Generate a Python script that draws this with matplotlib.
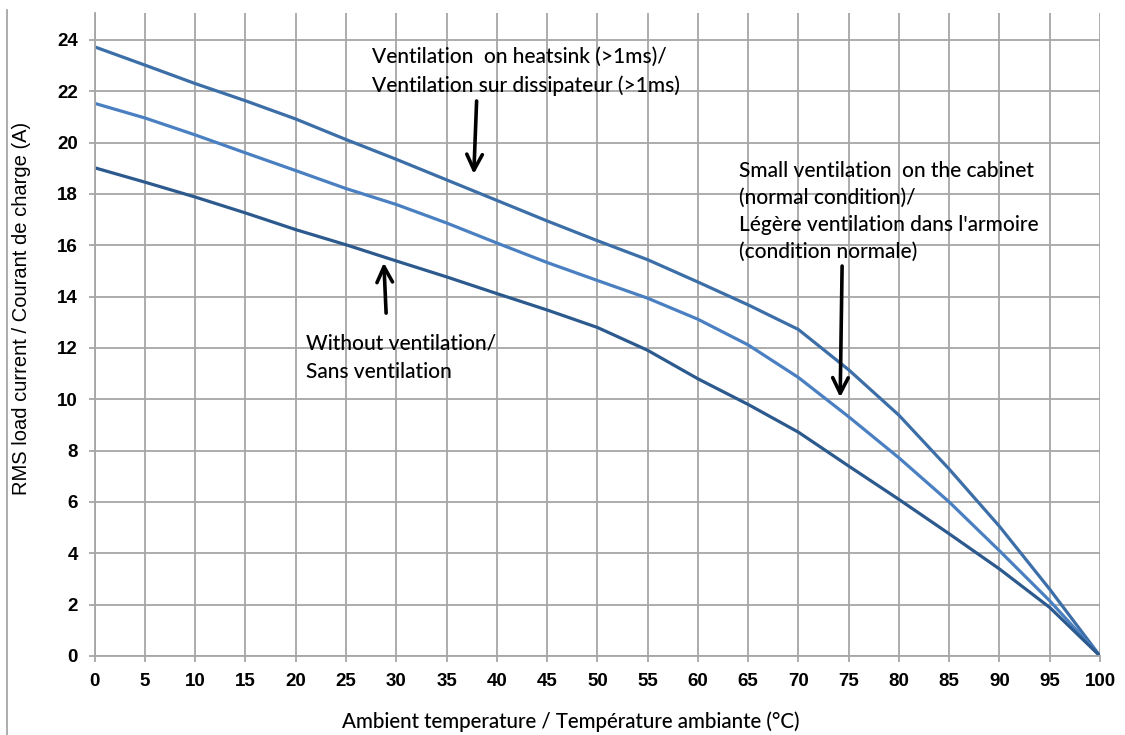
import numpy as np
import matplotlib
matplotlib.use('Agg')
import matplotlib.pyplot as plt
from matplotlib.lines import Line2D

# Temperature (°C) and load current (A)
temperature = [0, 5, 10, 15, 20, 25, 30, 35, 40, 45, 50,
               55, 60, 65, 70, 75, 80, 85, 90, 95, 100]
heatsink_fan = [23.73, 23.02, 22.30, 21.63, 20.92, 20.12, 19.35, 18.55, 17.75, 16.95, 16.18,
                15.44, 14.57, 13.68, 12.72, 11.15, 9.38, 7.28, 5.05, 2.60, 0.0]
cabinet_fan = [21.53, 20.96, 20.30, 19.60, 18.91, 18.21, 17.59, 16.87, 16.09, 15.33, 14.63,
               13.94, 13.12, 12.12, 10.85, 9.32, 7.72, 6.00, 4.10, 2.15, 0.0]
no_fan = [19.02, 18.46, 17.88, 17.26, 16.61, 16.02, 15.39, 14.77, 14.12, 13.48, 12.80,
          11.91, 10.80, 9.80, 8.72, 7.40, 6.10, 4.76, 3.39, 1.89, 0.0]

x_ticks = list(range(0, 101, 5))
y_ticks = list(range(0, 25, 2))

grid_col = '#a6a6a6'

fig = plt.figure(figsize=(11.25, 7.35), dpi=100)
ax = fig.add_axes([94.7 / 1125, 1 - 656 / 735, (1100 - 94.7) / 1125, (656 - 13) / 735])

ax.plot(temperature, heatsink_fan, color='#3c6ea8', lw=2.3, solid_joinstyle='round')
ax.plot(temperature, cabinet_fan, color='#4a80c2', lw=2.3, solid_joinstyle='round')
ax.plot(temperature, no_fan, color='#2d5a8e', lw=2.3, solid_joinstyle='round')

ax.set_xlim(0, 100)
ax.set_ylim(0, 25.05)
tick_font = dict(fontfamily='Liberation Sans', fontweight='bold', fontsize=13.5)
ax.set_xticks(x_ticks, labels=[str(v) for v in x_ticks], **tick_font)
ax.set_yticks(y_ticks, labels=[str(v) for v in y_ticks], **tick_font)
ax.grid(True, color=grid_col, lw=1.3)
ax.set_axisbelow(True)
for s in ['top', 'right']:
    ax.spines[s].set_visible(False)
for s in ['left', 'bottom']:
    ax.spines[s].set_color(grid_col)
    ax.spines[s].set_linewidth(1.3)
ax.tick_params(axis='both', length=4, width=1.3, color=grid_col, direction='out')
ax.tick_params(axis='x', pad=8)
ax.tick_params(axis='y', pad=8)

# axis titles
fig.text(22 / 1125, 1 - 308 / 735, 'RMS load current / Courant de charge (A)',
         rotation=90, ha='center', va='center', family='Liberation Sans', fontsize=14.5)
fig.text(571 / 1125, 1 - 722 / 735, 'Ambient temperature / Température ambiante (°C)',
         ha='center', va='center', family='Lato', fontweight='medium', fontsize=14.8)

# outer frame line at the left
fig.add_artist(Line2D([6.7 / 1125, 6.7 / 1125], [0, 1 - 10 / 735],
                      transform=fig.transFigure, color=grid_col, lw=1.3))

# annotations
txt_kw = dict(family='Lato', fontweight='medium', fontsize=15, color='black')
ax.text(27.6, 23.75, 'Ventilation  on heatsink (>1ms)/\nVentilation sur dissipateur (>1ms)',
        va='top', ha='left', linespacing=1.56, **txt_kw)
ax.text(64.05, 19.28, "Small ventilation  on the cabinet\n(normal condition)/\n"
        "Légère ventilation dans l'armoire\n(condition normale)",
        va='top', ha='left', linespacing=1.44, **txt_kw)
ax.text(21.0, 12.58, 'Without ventilation/\nSans ventilation', va='top', ha='left',
        linespacing=1.58, **txt_kw)

arrow_kw = dict(arrowstyle='->', color='black', lw=2.6, mutation_scale=28)
ax.annotate('', xy=(37.7, 18.67), xytext=(38.0, 21.73), arrowprops=arrow_kw)
ax.annotate('', xy=(74.15, 9.97), xytext=(74.35, 15.3), arrowprops=arrow_kw)
ax.annotate('', xy=(28.75, 15.43), xytext=(29.0, 13.25), arrowprops=arrow_kw)

fig.savefig('out.png', dpi=100)
